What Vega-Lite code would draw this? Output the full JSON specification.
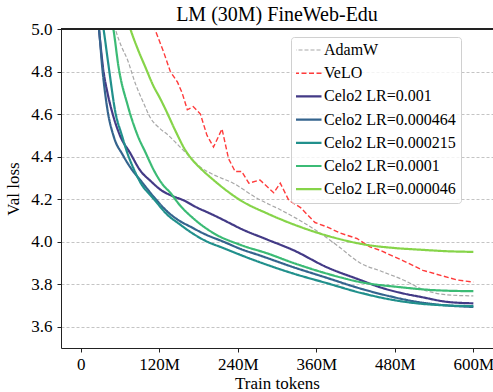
{
  "$schema": "https://vega.github.io/schema/vega-lite/v6.json",
  "width": 432,
  "height": 319,
  "autosize": {"type": "none"},
  "padding": {"left": 61, "top": 29, "right": 0, "bottom": 44},
  "title": {"text": "LM (30M) FineWeb-Edu", "font": "Liberation Serif", "fontSize": 20, "fontWeight": "normal", "color": "#000000", "offset": -5, "frame": "group"},
  "config": {
    "view": {"stroke": null},
    "font": "Liberation Serif",
    "axis": {"labelFont": "Liberation Serif", "titleFont": "Liberation Serif", "labelFontSize": 17, "titleFontSize": 17, "titleFontWeight": "normal", "labelColor": "#000000", "titleColor": "#000000", "domainColor": "#222222", "tickColor": "#222222", "tickSize": 4, "domainWidth": 1, "tickWidth": 1},
    "legend": {"labelFont": "Liberation Serif", "labelFontSize": 16, "labelColor": "#000000"}
  },
  "data": {"values": [
    {"s":"AdamW","x":45,"y":5.1},{"s":"AdamW","x":53,"y":5.0},{"s":"AdamW","x":62,"y":4.92},{"s":"AdamW","x":71,"y":4.86},{"s":"AdamW","x":84,"y":4.74},{"s":"AdamW","x":95,"y":4.66},{"s":"AdamW","x":108,"y":4.575},{"s":"AdamW","x":120,"y":4.535},{"s":"AdamW","x":134,"y":4.5},{"s":"AdamW","x":147,"y":4.46},{"s":"AdamW","x":160,"y":4.42},{"s":"AdamW","x":183,"y":4.35},{"s":"AdamW","x":203,"y":4.315},{"s":"AdamW","x":233,"y":4.275},{"s":"AdamW","x":269,"y":4.205},{"s":"AdamW","x":305,"y":4.15},{"s":"AdamW","x":335,"y":4.1},{"s":"AdamW","x":366,"y":4.04},{"s":"AdamW","x":395,"y":3.975},{"s":"AdamW","x":427,"y":3.9},{"s":"AdamW","x":460,"y":3.86},{"s":"AdamW","x":493,"y":3.82},{"s":"AdamW","x":523,"y":3.775},{"s":"AdamW","x":560,"y":3.75},{"s":"AdamW","x":600,"y":3.745},
    {"s":"VeLO","x":107,"y":5.05},{"s":"VeLO","x":127,"y":4.89},{"s":"VeLO","x":137,"y":4.8},{"s":"VeLO","x":148,"y":4.75},{"s":"VeLO","x":155,"y":4.7},{"s":"VeLO","x":163,"y":4.62},{"s":"VeLO","x":172,"y":4.635},{"s":"VeLO","x":183,"y":4.6},{"s":"VeLO","x":193,"y":4.5},{"s":"VeLO","x":203,"y":4.445},{"s":"VeLO","x":216,"y":4.53},{"s":"VeLO","x":226,"y":4.39},{"s":"VeLO","x":236,"y":4.33},{"s":"VeLO","x":246,"y":4.33},{"s":"VeLO","x":257,"y":4.275},{"s":"VeLO","x":274,"y":4.29},{"s":"VeLO","x":295,"y":4.23},{"s":"VeLO","x":305,"y":4.275},{"s":"VeLO","x":318,"y":4.195},{"s":"VeLO","x":336,"y":4.16},{"s":"VeLO","x":358,"y":4.09},{"s":"VeLO","x":376,"y":4.07},{"s":"VeLO","x":397,"y":4.04},{"s":"VeLO","x":422,"y":4.015},{"s":"VeLO","x":442,"y":3.975},{"s":"VeLO","x":457,"y":3.96},{"s":"VeLO","x":493,"y":3.91},{"s":"VeLO","x":523,"y":3.865},{"s":"VeLO","x":575,"y":3.82},{"s":"VeLO","x":600,"y":3.81},
    {"s":"Celo2 LR=0.001","x":25,"y":5.1},{"s":"Celo2 LR=0.001","x":28,"y":5.0},{"s":"Celo2 LR=0.001","x":35,"y":4.8},{"s":"Celo2 LR=0.001","x":41,"y":4.7},{"s":"Celo2 LR=0.001","x":49,"y":4.6},{"s":"Celo2 LR=0.001","x":60,"y":4.5},{"s":"Celo2 LR=0.001","x":76,"y":4.415},{"s":"Celo2 LR=0.001","x":91,"y":4.335},{"s":"Celo2 LR=0.001","x":107,"y":4.285},{"s":"Celo2 LR=0.001","x":124,"y":4.24},{"s":"Celo2 LR=0.001","x":140,"y":4.215},{"s":"Celo2 LR=0.001","x":157,"y":4.195},{"s":"Celo2 LR=0.001","x":178,"y":4.16},{"s":"Celo2 LR=0.001","x":196,"y":4.135},{"s":"Celo2 LR=0.001","x":213,"y":4.11},{"s":"Celo2 LR=0.001","x":229,"y":4.085},{"s":"Celo2 LR=0.001","x":244,"y":4.062},{"s":"Celo2 LR=0.001","x":285,"y":4.01},{"s":"Celo2 LR=0.001","x":325,"y":3.96},{"s":"Celo2 LR=0.001","x":376,"y":3.88},{"s":"Celo2 LR=0.001","x":427,"y":3.82},{"s":"Celo2 LR=0.001","x":457,"y":3.786},{"s":"Celo2 LR=0.001","x":488,"y":3.76},{"s":"Celo2 LR=0.001","x":520,"y":3.74},{"s":"Celo2 LR=0.001","x":560,"y":3.717},{"s":"Celo2 LR=0.001","x":600,"y":3.71},
    {"s":"Celo2 LR=0.000464","x":24,"y":5.1},{"s":"Celo2 LR=0.000464","x":28,"y":5.0},{"s":"Celo2 LR=0.000464","x":33,"y":4.82},{"s":"Celo2 LR=0.000464","x":41,"y":4.62},{"s":"Celo2 LR=0.000464","x":51,"y":4.49},{"s":"Celo2 LR=0.000464","x":64,"y":4.41},{"s":"Celo2 LR=0.000464","x":78,"y":4.34},{"s":"Celo2 LR=0.000464","x":91,"y":4.29},{"s":"Celo2 LR=0.000464","x":112,"y":4.21},{"s":"Celo2 LR=0.000464","x":133,"y":4.14},{"s":"Celo2 LR=0.000464","x":150,"y":4.1},{"s":"Celo2 LR=0.000464","x":168,"y":4.07},{"s":"Celo2 LR=0.000464","x":190,"y":4.035},{"s":"Celo2 LR=0.000464","x":218,"y":4.0},{"s":"Celo2 LR=0.000464","x":245,"y":3.965},{"s":"Celo2 LR=0.000464","x":274,"y":3.935},{"s":"Celo2 LR=0.000464","x":325,"y":3.88},{"s":"Celo2 LR=0.000464","x":376,"y":3.83},{"s":"Celo2 LR=0.000464","x":427,"y":3.78},{"s":"Celo2 LR=0.000464","x":470,"y":3.745},{"s":"Celo2 LR=0.000464","x":508,"y":3.72},{"s":"Celo2 LR=0.000464","x":560,"y":3.7},{"s":"Celo2 LR=0.000464","x":600,"y":3.693},
    {"s":"Celo2 LR=0.000215","x":30,"y":5.1},{"s":"Celo2 LR=0.000215","x":35,"y":5.0},{"s":"Celo2 LR=0.000215","x":43,"y":4.82},{"s":"Celo2 LR=0.000215","x":53,"y":4.61},{"s":"Celo2 LR=0.000215","x":63,"y":4.5},{"s":"Celo2 LR=0.000215","x":71,"y":4.42},{"s":"Celo2 LR=0.000215","x":80,"y":4.35},{"s":"Celo2 LR=0.000215","x":91,"y":4.28},{"s":"Celo2 LR=0.000215","x":112,"y":4.2},{"s":"Celo2 LR=0.000215","x":133,"y":4.125},{"s":"Celo2 LR=0.000215","x":150,"y":4.085},{"s":"Celo2 LR=0.000215","x":168,"y":4.045},{"s":"Celo2 LR=0.000215","x":190,"y":4.005},{"s":"Celo2 LR=0.000215","x":218,"y":3.97},{"s":"Celo2 LR=0.000215","x":259,"y":3.92},{"s":"Celo2 LR=0.000215","x":325,"y":3.85},{"s":"Celo2 LR=0.000215","x":376,"y":3.805},{"s":"Celo2 LR=0.000215","x":427,"y":3.76},{"s":"Celo2 LR=0.000215","x":470,"y":3.73},{"s":"Celo2 LR=0.000215","x":508,"y":3.712},{"s":"Celo2 LR=0.000215","x":560,"y":3.7},{"s":"Celo2 LR=0.000215","x":600,"y":3.697},
    {"s":"Celo2 LR=0.0001","x":45,"y":5.08},{"s":"Celo2 LR=0.0001","x":50,"y":5.0},{"s":"Celo2 LR=0.0001","x":58,"y":4.82},{"s":"Celo2 LR=0.0001","x":72,"y":4.64},{"s":"Celo2 LR=0.0001","x":87,"y":4.5},{"s":"Celo2 LR=0.0001","x":99,"y":4.42},{"s":"Celo2 LR=0.0001","x":112,"y":4.335},{"s":"Celo2 LR=0.0001","x":125,"y":4.27},{"s":"Celo2 LR=0.0001","x":137,"y":4.23},{"s":"Celo2 LR=0.0001","x":152,"y":4.17},{"s":"Celo2 LR=0.0001","x":172,"y":4.11},{"s":"Celo2 LR=0.0001","x":203,"y":4.04},{"s":"Celo2 LR=0.0001","x":244,"y":3.985},{"s":"Celo2 LR=0.0001","x":285,"y":3.945},{"s":"Celo2 LR=0.0001","x":325,"y":3.9},{"s":"Celo2 LR=0.0001","x":376,"y":3.85},{"s":"Celo2 LR=0.0001","x":427,"y":3.81},{"s":"Celo2 LR=0.0001","x":488,"y":3.786},{"s":"Celo2 LR=0.0001","x":540,"y":3.772},{"s":"Celo2 LR=0.0001","x":600,"y":3.767},
    {"s":"Celo2 LR=0.000046","x":70,"y":5.06},{"s":"Celo2 LR=0.000046","x":76,"y":5.0},{"s":"Celo2 LR=0.000046","x":88,"y":4.9},{"s":"Celo2 LR=0.000046","x":99,"y":4.82},{"s":"Celo2 LR=0.000046","x":110,"y":4.74},{"s":"Celo2 LR=0.000046","x":122,"y":4.67},{"s":"Celo2 LR=0.000046","x":130,"y":4.62},{"s":"Celo2 LR=0.000046","x":145,"y":4.52},{"s":"Celo2 LR=0.000046","x":160,"y":4.43},{"s":"Celo2 LR=0.000046","x":172,"y":4.38},{"s":"Celo2 LR=0.000046","x":183,"y":4.345},{"s":"Celo2 LR=0.000046","x":203,"y":4.29},{"s":"Celo2 LR=0.000046","x":223,"y":4.24},{"s":"Celo2 LR=0.000046","x":244,"y":4.195},{"s":"Celo2 LR=0.000046","x":287,"y":4.13},{"s":"Celo2 LR=0.000046","x":335,"y":4.07},{"s":"Celo2 LR=0.000046","x":386,"y":4.02},{"s":"Celo2 LR=0.000046","x":437,"y":3.985},{"s":"Celo2 LR=0.000046","x":480,"y":3.97},{"s":"Celo2 LR=0.000046","x":520,"y":3.962},{"s":"Celo2 LR=0.000046","x":560,"y":3.955},{"s":"Celo2 LR=0.000046","x":600,"y":3.952}
  ]},
  "encoding": {
    "x": {"field": "x", "type": "quantitative", "scale": {"domain": [-30, 630], "nice": false, "zero": false},
      "axis": {"values": [0, 120, 240, 360, 480, 600], "labelExpr": "datum.value == 0 ? '0' : datum.value + 'M'", "grid": false, "title": "Train tokens", "labelPadding": 4, "titlePadding": 3, "labelFlush": false}},
    "y": {"field": "y", "type": "quantitative", "scale": {"domain": [3.5, 5.0], "nice": false, "zero": false},
      "axis": {"values": [3.6, 3.8, 4.0, 4.2, 4.4, 4.6, 4.8, 5.0], "format": ".1f", "grid": true, "gridColor": "#b5b5b5", "gridDash": [3, 2], "gridWidth": 0.8, "title": "Val loss", "labelPadding": 5, "titlePadding": 8, "labelFlush": false}},
    "color": {"field": "s", "type": "nominal", "scale": {"domain": ["AdamW", "VeLO", "Celo2 LR=0.001", "Celo2 LR=0.000464", "Celo2 LR=0.000215", "Celo2 LR=0.0001", "Celo2 LR=0.000046"], "range": ["#a8a8a8", "#ff3b3b", "#433a86", "#35648e", "#21908c", "#3bbb75", "#86d449"]},
      "legend": {"title": null, "orient": "none", "legendX": 230, "legendY": 8, "symbolType": "stroke", "symbolSize": 1225, "clipHeight": 16, "rowPadding": 7.2, "labelOffset": 12, "padding": 5, "strokeColor": "#d0d0d0", "fillColor": "rgba(255,255,255,0.8)", "cornerRadius": 3, "labelFontSize": 16, "labelFont": "Liberation Serif",
        "encode": {"symbols": {"update": {"strokeWidth": {"signal": "datum.value == 'AdamW' ? 1.2 : datum.value == 'VeLO' ? 1.4 : 2.2"}}}}}},
    "strokeDash": {"field": "s", "type": "nominal", "scale": {"domain": ["AdamW", "VeLO", "Celo2 LR=0.001", "Celo2 LR=0.000464", "Celo2 LR=0.000215", "Celo2 LR=0.0001", "Celo2 LR=0.000046"], "range": [[4, 2], [5, 2.5], [1, 0], [1, 0], [1, 0], [1, 0], [1, 0]]},
      "legend": {"title": null, "orient": "none", "legendX": 230, "legendY": 8, "symbolType": "stroke", "symbolSize": 1225, "clipHeight": 16, "rowPadding": 7.2, "labelOffset": 12, "padding": 5, "strokeColor": "#d0d0d0", "fillColor": "rgba(255,255,255,0.8)", "cornerRadius": 3, "labelFontSize": 16, "labelFont": "Liberation Serif",
        "encode": {"symbols": {"update": {"strokeWidth": {"signal": "datum.value == 'AdamW' ? 1.2 : datum.value == 'VeLO' ? 1.4 : 2.2"}}}}}}
  },
  "layer": [
    {
      "mark": {"type": "line", "clip": true, "interpolate": "monotone", "strokeWidth": 1.2},
      "transform": [{"filter": "datum.s == 'AdamW'"}]
    },
    {
      "mark": {"type": "line", "clip": true, "interpolate": "linear", "strokeWidth": 1.4},
      "transform": [{"filter": "datum.s == 'VeLO'"}]
    },
    {
      "mark": {"type": "line", "clip": true, "interpolate": "monotone", "strokeWidth": 2.2},
      "transform": [{"filter": "datum.s != 'VeLO' && datum.s != 'AdamW'"}]
    },
    {
      "mark": {"type": "rule", "color": "#222222", "strokeWidth": 1},
      "encoding": {"y": {"datum": 5.0}, "x": {"datum": -30}, "x2": {"datum": 630}, "color": {"value": "#222222"}, "strokeDash": {"value": [1, 0]}}
    }
  ]
}
